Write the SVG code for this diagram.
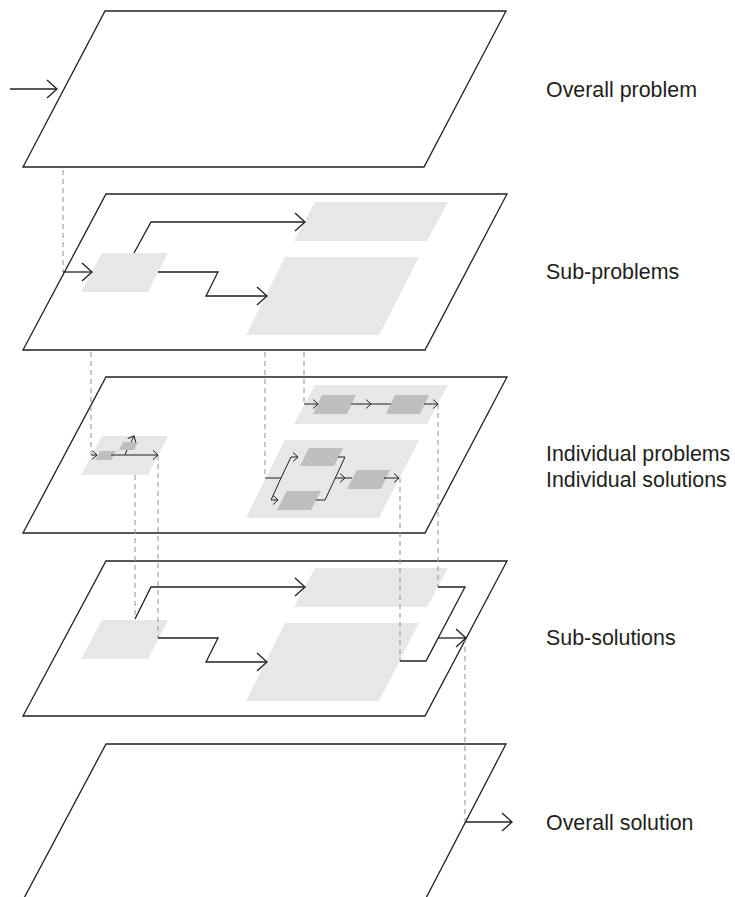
<svg xmlns="http://www.w3.org/2000/svg" width="735" height="897" viewBox="0 0 735 897">
<style>
.layer{fill:#fff;stroke:#231f20;stroke-width:1.3;stroke-linejoin:miter}
.lt{fill:#e6e7e8}
.dk{fill:#bcbec0}
.ln{fill:none;stroke:#231f20;stroke-width:1.3}
.ln.big{marker-end:url(#ab)}
.ln.sm{marker-end:url(#as)}
.sln{fill:none;stroke:#231f20;stroke-width:1}
.sln.sm{marker-end:url(#as)}
.dash{fill:none;stroke:#9a9a9a;stroke-width:1.1;stroke-dasharray:5 4}
.lbl{font-family:"Liberation Sans",Arial,Helvetica,sans-serif;font-size:21.4px;fill:#231f20}
</style>
<defs>
<marker id="ab" markerUnits="userSpaceOnUse" refX="0" refY="0" markerWidth="20" markerHeight="20" orient="auto" overflow="visible">
<path d="M-10,-9 L0,0 L-10,9" fill="none" stroke="#231f20" stroke-width="1.3"/>
</marker>
<marker id="as" markerUnits="userSpaceOnUse" refX="0" refY="0" markerWidth="10" markerHeight="10" orient="auto" overflow="visible">
<path d="M-5,-4.5 L0,0 L-5,4.5" fill="none" stroke="#231f20" stroke-width="1"/>
</marker>
</defs>

<g id="layer-overall-problem">
<polygon class="layer" points="105,11 506,11 424,167 23,167"/>
</g>

<g id="layer-sub-problems">
<polygon class="layer" points="106,194 507,194 425,350 23,350"/>
<polygon class="lt" points="102,253 168,253 148,292 81,292"/>
<polygon class="lt" points="315,202 448,202 427,241 294,241"/>
<polygon class="lt" points="285,257 419,257 379,335 246,335"/>
</g>

<g id="layer-individual">
<polygon class="layer" points="106,377 507,377 425,533 23,533"/>
<polygon class="lt" points="102,436 168,436 148,475 81,475"/>
<polygon class="lt" points="315,385 448,385 427,424 294,424"/>
<polygon class="lt" points="285,440 419,440 379,518 246,518"/>
<polygon class="dk" points="100,451 116,451 111,460 95,460"/>
<polygon class="dk" points="123,442 138,442 134,450 119,450"/>
<polygon class="dk" points="322,395 356,395 347,414 313,414"/>
<polygon class="dk" points="395,395 429,395 420,414 386,414"/>
<polygon class="dk" points="309,448 343,448 334,466 300,466"/>
<polygon class="dk" points="287,491 321,491 311,510 277,510"/>
<polygon class="dk" points="357,470 390,470 381,489 347,489"/>
</g>

<g id="layer-sub-solutions">
<polygon class="layer" points="106,561 507,561 425,716 23,716"/>
<polygon class="lt" points="102,620 168,620 148,659 81,659"/>
<polygon class="lt" points="315,568 448,568 427,607 294,607"/>
<polygon class="lt" points="285,623 419,623 379,701 246,701"/>
</g>

<g id="layer-overall-solution">
<path class="layer" d="M23,900 L106,744 L506,744 L425,900"/>
</g>

<g id="connectors">
<!-- dashed projections -->
<path class="dash" d="M63,170 V272"/>
<path class="dash" d="M91,352 V455"/>
<path class="dash" d="M265,352 V478"/>
<path class="dash" d="M304,352 V404"/>
<path class="dash" d="M135,475 V618"/>
<path class="dash" d="M158,455 V638"/>
<path class="dash" d="M400,478 V661"/>
<path class="dash" d="M438,404 V587"/>
<path class="dash" d="M465,638 V822"/>

<!-- layer 1 -->
<path class="ln big" d="M10,89 H57"/>

<!-- layer 2 -->
<path class="ln big" d="M63,272 H92"/>
<path class="ln big" d="M134,253 L151,222 H305"/>
<path class="ln big" d="M158,272 H218 L206,296 H267"/>

<!-- layer 3 left -->
<path class="sln sm" d="M91,455 H97"/>
<path class="sln sm" d="M111,455 H158"/>
<path class="sln" d="M125,455 L127,450"/>
<path class="sln sm" d="M131,442 L134,436"/>

<!-- layer 3 right top -->
<path class="sln sm" d="M304,404 H318"/>
<path class="sln sm" d="M351,404 H371"/>
<path class="sln" d="M371,404 H391"/>
<path class="sln sm" d="M424,404 H438"/>

<!-- layer 3 right bottom -->
<path class="sln" d="M265,478 H281"/>
<path class="sln sm" d="M281,478 L291,457 H298"/>
<path class="sln sm" d="M281,478 L271,500 H278"/>
<path class="sln" d="M338,457 H345 L325,500 H316"/>
<path class="sln sm" d="M335,478 H345"/>
<path class="sln" d="M345,478 H352"/>
<path class="sln sm" d="M384,478 H399"/>

<!-- layer 4 -->
<path class="ln big" d="M135,619 L151,587 H305"/>
<path class="ln big" d="M158,638 H218 L206,662 H267"/>
<path class="ln" d="M438,587 H465 L426,661 H400"/>
<path class="ln big" d="M438,638 H466"/>

<!-- layer 5 -->
<path class="ln big" d="M465,822 H512"/>
</g>

<g id="labels">
<text class="lbl" x="546" y="96.5">Overall problem</text>
<text class="lbl" x="546" y="279">Sub-problems</text>
<text class="lbl" x="546" y="460.5">Individual problems</text>
<text class="lbl" x="546" y="486.5">Individual solutions</text>
<text class="lbl" x="546" y="645">Sub-solutions</text>
<text class="lbl" x="546" y="829.5">Overall solution</text>
</g>
</svg>
